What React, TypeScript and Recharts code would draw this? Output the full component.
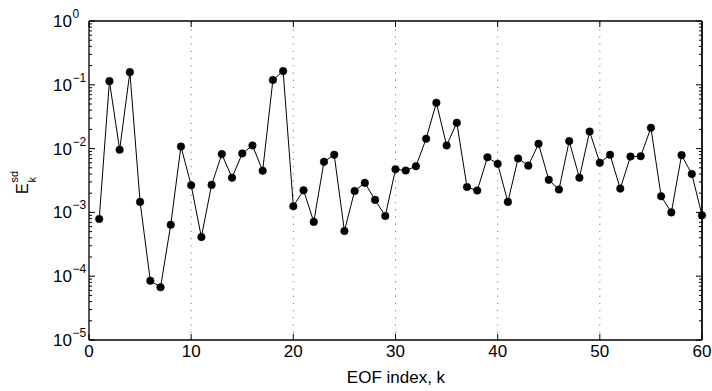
import React from 'react';
import { LineChart, Line, XAxis, YAxis, ReferenceLine } from 'recharts';

const kIndex = [
  1, 2, 3, 4, 5, 6, 7, 8, 9, 10,
  11, 12, 13, 14, 15, 16, 17, 18, 19, 20,
  21, 22, 23, 24, 25, 26, 27, 28, 29, 30,
  31, 32, 33, 34, 35, 36, 37, 38, 39, 40,
  41, 42, 43, 44, 45, 46, 47, 48, 49, 50,
  51, 52, 53, 54, 55, 56, 57, 58, 59, 60,
];

const energy = [
  7.9e-4, 0.114, 0.0096, 0.158, 0.00146, 8.5e-5, 6.7e-5, 6.4e-4, 0.0108, 0.00266,
  4.1e-4, 0.0027, 0.0082, 0.0035, 0.0084, 0.0112, 0.0045, 0.119, 0.164, 0.00125,
  0.00222, 7.1e-4, 0.0062, 0.008, 5.1e-4, 0.00217, 0.0029, 0.00157, 8.8e-4, 0.00475,
  0.00453, 0.0053, 0.0143, 0.0524, 0.0112, 0.0254, 0.0025, 0.0022, 0.0073, 0.00577,
  0.00146, 0.007, 0.0054, 0.0119, 0.00324, 0.00228, 0.0131, 0.0035, 0.0185, 0.006,
  0.008, 0.00236, 0.0075, 0.0076, 0.0212, 0.00179, 0.001, 0.0079, 0.004, 0.0009,
];

const xTicks = [0, 10, 20, 30, 40, 50, 60];
const gridX = [10, 20, 30, 40, 50];
const yMajorTicks = [1e-5, 1e-4, 1e-3, 1e-2, 1e-1, 1];
const yExpLabels = ['\u22125', '\u22124', '\u22123', '\u22122', '\u22121', '0'];
const mantissas = [2, 3, 4, 5, 6, 7, 8, 9];

const data = kIndex.map((k, i) => ({ k, v: energy[i] }));

const yAllTicks: number[] = [];
yMajorTicks.forEach((t, i) => {
  yAllTicks.push(t);
  if (i < yMajorTicks.length - 1) mantissas.forEach((m) => yAllTicks.push(m * t));
});

const FONT = '"Liberation Sans", Arial, Helvetica, sans-serif';

const isMajor = (v: number) => {
  const l = Math.log10(v);
  return Math.abs(l - Math.round(l)) < 1e-6;
};

const LeftTick = (props: any) => {
  const { x, y, payload } = props;
  const v = payload.value;
  if (isMajor(v)) {
    const idx = yMajorTicks.findIndex((t) => Math.abs(Math.log10(t) - Math.log10(v)) < 1e-6);
    return (
      <g>
        <line x1={x} x2={x + 6} y1={y} y2={y} stroke="#000" strokeWidth={1} />
        <text x={x - 17} y={y + 6} textAnchor="end" fontSize={17} fontFamily={FONT} fill="#000">10</text>
        <text x={x - 16.5} y={y - 3} textAnchor="start" fontSize={12} fontFamily={FONT} fill="#000">
          {yExpLabels[idx]}
        </text>
      </g>
    );
  }
  return <line x1={x} x2={x + 3} y1={y} y2={y} stroke="#000" strokeWidth={1} />;
};

const RightTick = (props: any) => {
  const { x, y, payload } = props;
  const len = isMajor(payload.value) ? 6 : 3;
  return <line x1={x} x2={x - len} y1={y} y2={y} stroke="#000" strokeWidth={1} />;
};

const BottomTick = (props: any) => {
  const { x, y, payload } = props;
  return (
    <g>
      <line x1={x} x2={x} y1={y} y2={y - 6} stroke="#000" strokeWidth={1} />
      <text x={x} y={y + 17} textAnchor="middle" fontSize={17} fontFamily={FONT} fill="#000">
        {payload.value}
      </text>
    </g>
  );
};

const TopTick = (props: any) => {
  const { x, y } = props;
  return <line x1={x} x2={x} y1={y} y2={y + 6} stroke="#000" strokeWidth={1} />;
};

export default function App() {
  return (
    <div style={{ position: 'relative', width: 712, height: 391 }}>
      <style>{'body{margin:0;overflow:hidden}'}</style>
      <LineChart width={712} height={391} data={data} margin={{ top: 0, right: 0, bottom: 0, left: 0 }}>
        <XAxis
          xAxisId="b"
          dataKey="k"
          type="number"
          domain={[0, 60]}
          ticks={xTicks}
          interval={0}
          orientation="bottom"
          height={51}
          tickSize={0}
          tickMargin={0}
          tickLine={false}
          axisLine={{ stroke: '#000', strokeWidth: 1.3 }}
          tick={BottomTick}
        />
        <XAxis
          xAxisId="t"
          dataKey="k"
          type="number"
          domain={[0, 60]}
          ticks={xTicks}
          interval={0}
          orientation="top"
          height={21}
          tickSize={0}
          tickMargin={0}
          tickLine={false}
          axisLine={{ stroke: '#000', strokeWidth: 1.3 }}
          tick={TopTick}
        />
        <YAxis
          yAxisId="l"
          orientation="left"
          type="number"
          scale="log"
          domain={[1e-5, 1]}
          ticks={yAllTicks}
          interval={0}
          width={89}
          tickSize={0}
          tickMargin={0}
          tickLine={false}
          axisLine={{ stroke: '#000', strokeWidth: 1.3 }}
          tick={LeftTick}
        />
        <YAxis
          yAxisId="r"
          orientation="right"
          type="number"
          scale="log"
          domain={[1e-5, 1]}
          ticks={yAllTicks}
          interval={0}
          width={10}
          tickSize={0}
          tickMargin={0}
          tickLine={false}
          axisLine={{ stroke: '#000', strokeWidth: 1.3 }}
          tick={RightTick}
        />
        {gridX.map((gx) => (
          <ReferenceLine
            key={gx}
            x={gx}
            xAxisId="b"
            yAxisId="l"
            stroke="#777"
            strokeWidth={1}
            strokeDasharray="1.2 6"
          />
        ))}
        <ReferenceLine
          x={60}
          xAxisId="b"
          yAxisId="l"
          stroke="#000"
          strokeWidth={1.3}
          ifOverflow="visible"
        />
        <Line
          xAxisId="t"
          yAxisId="r"
          type="linear"
          dataKey="v"
          stroke="none"
          strokeWidth={0}
          dot={false}
          activeDot={false}
          legendType="none"
          isAnimationActive={false}
        />
        <Line
          xAxisId="b"
          yAxisId="l"
          type="linear"
          dataKey="v"
          stroke="#000"
          strokeWidth={1}
          dot={{ r: 3.8, fill: '#000', stroke: '#000', strokeWidth: 0.5 }}
          isAnimationActive={false}
        />
      </LineChart>
      <svg
        width={712}
        height={391}
        style={{ position: 'absolute', left: 0, top: 0, pointerEvents: 'none' }}
      >
        <text x={396} y={383} textAnchor="middle" fontSize={17} fontFamily={FONT} fill="#000">
          EOF index, k
        </text>
        <g transform="translate(28,194) rotate(-90)">
          <text x={0} y={0} fontSize={16} fontFamily={FONT} fill="#000">E</text>
          <text x={11.5} y={-10} fontSize={11} fontFamily={FONT} fill="#000">sd</text>
          <text x={11.5} y={8} fontSize={11} fontFamily={FONT} fill="#000">k</text>
        </g>
      </svg>
    </div>
  );
}
